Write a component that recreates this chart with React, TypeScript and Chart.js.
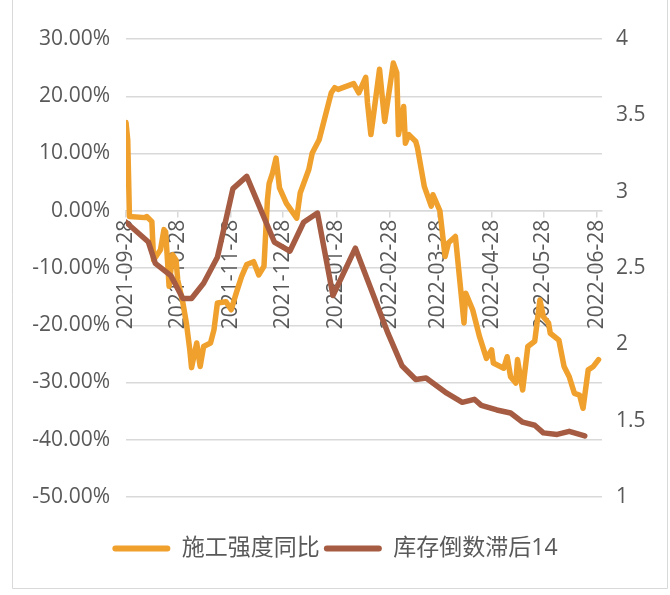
import React, { useEffect, useRef } from "react";
import { Chart, registerables } from "chart.js";

Chart.register(...registerables);

// X-axis tick labels (month anniversaries)
const tickDates = [
  "2021-09-28", "2021-10-28", "2021-11-28", "2021-12-28", "2022-01-28",
  "2022-02-28", "2022-03-28", "2022-04-28", "2022-05-28", "2022-06-28",
];

// 施工强度同比 (left axis, %), x = days since 2021-09-28
const constructionDays = [
  0, 1, 2, 11, 12, 15, 16, 20, 22, 23, 25, 27, 29, 30, 33, 35, 37, 38, 41, 43,
  45, 49, 51, 53, 58, 61, 64, 67, 70, 74, 77, 80, 82, 83, 85, 87, 89, 93, 99, 101,
  106, 108, 112, 119, 121, 123, 132, 135, 139, 140, 142, 147, 150, 155, 157, 158, 161, 162, 164, 168,
  169, 173, 175, 177, 178, 182, 185, 187, 191, 196, 197, 201, 205, 209, 212, 213, 219, 221, 223, 226,
  227, 230, 233, 237, 240, 242, 245, 246, 251, 254, 257, 260, 263, 265, 268, 271, 274,
];
const constructionValues = [
  15.4, 12.4, -1.0, -1.2, -1.0, -1.9, -8.6, -6.8, -3.3, -3.7, -13.2, -7.7, -8.6, -12.1, -16.1, -19.6, -24.3, -27.4, -23.1, -27.2,
  -23.7, -23.1, -20.8, -16.1, -15.9, -17.3, -14.3, -11.5, -9.4, -8.9, -11.2, -9.7, 1.9, 4.8, 6.6, 9.2, 4.0, 1.3, -1.3, 3.1,
  7.2, 10.1, 12.4, 20.6, 21.5, 21.2, 22.2, 20.6, 23.3, 18.9, 13.3, 24.7, 15.6, 25.8, 24.1, 13.3, 18.2, 11.8, 13.3, 12.1,
  11.0, 4.2, 2.5, 0.8, 2.8, 0.0, -8.0, -5.6, -4.5, -19.6, -14.4, -17.3, -22.0, -25.8, -24.3, -26.6, -27.5, -25.5, -29.0, -30.1,
  -26.0, -31.3, -23.7, -22.8, -15.6, -18.5, -19.6, -21.4, -22.6, -27.2, -29.0, -31.9, -32.2, -34.5, -27.8, -27.2, -26.0,
];

// 库存倒数滞后14 (right axis)
const inventoryDays = [
  0, 13, 17, 26, 33, 38, 45, 53, 62, 70, 86, 95, 103, 111, 120, 133,
  152, 160, 168, 174, 186, 195, 202, 206, 215, 223, 230, 237, 242, 250, 257, 266,
];
const inventoryValues = [
  2.80, 2.67, 2.53, 2.45, 2.30, 2.30, 2.40, 2.57, 3.02, 3.10, 2.67, 2.61, 2.80, 2.86, 2.32, 2.63,
  2.07, 1.86, 1.77, 1.78, 1.68, 1.62, 1.64, 1.60, 1.57, 1.55, 1.49, 1.47, 1.42, 1.41, 1.43, 1.40,
];

const seriesNames = ["施工强度同比", "库存倒数滞后14"];

const DAY = 86400000;
const dayOffset = (d: string) => Math.round((Date.parse(d) - Date.parse(tickDates[0])) / DAY);
const tickDays = tickDates.map(dayOffset);

const ORANGE = "#F0A02C";
const BROWN = "#A65C42";
const GRID = "#d9d9d9";
const TEXT = "#595959";
const FONT = "'Open Sans', 'Noto Sans CJK SC', sans-serif";

const framePlugin = {
  id: "frame",
  beforeDraw(chart: any) {
    const ctx = chart.ctx;
    ctx.save();
    ctx.fillStyle = "#ffffff";
    ctx.fillRect(0, 0, chart.width, chart.height);
    ctx.strokeStyle = GRID;
    ctx.lineWidth = 1;
    ctx.beginPath();
    ctx.moveTo(12.5, 0);
    ctx.lineTo(12.5, 588.5);
    ctx.lineTo(667.5, 588.5);
    ctx.lineTo(667.5, 0);
    ctx.stroke();
    ctx.restore();
  },
};

export default function App() {
  const ref = useRef<HTMLCanvasElement | null>(null);

  useEffect(() => {
    if (!ref.current) return;
    const chart = new Chart(ref.current, {
      type: "line",
      data: {
        datasets: [
          {
            label: seriesNames[0],
            data: constructionDays.map((d, i) => ({ x: d, y: constructionValues[i] })),
            borderColor: ORANGE,
            backgroundColor: ORANGE,
            borderWidth: 5.5,
            pointRadius: 0,
            tension: 0,
            borderJoinStyle: "round",
            borderCapStyle: "round",
            yAxisID: "y",
            order: 1,
          },
          {
            label: seriesNames[1],
            data: inventoryDays.map((d, i) => ({ x: d, y: inventoryValues[i] })),
            borderColor: BROWN,
            backgroundColor: BROWN,
            borderWidth: 5.5,
            pointRadius: 0,
            tension: 0,
            borderJoinStyle: "round",
            borderCapStyle: "round",
            yAxisID: "y2",
            order: 0,
          },
        ],
      },
      options: {
        responsive: false,
        animation: false,
        events: [],
        layout: { padding: { left: 0, right: 0, top: 39, bottom: 25 } },
        plugins: {
          tooltip: { enabled: false },
          legend: {
            position: "bottom",
            labels: {
              boxWidth: 58,
              boxHeight: 6,
              useBorderRadius: true,
              borderRadius: 3,
              padding: 4,
              color: TEXT,
              font: { family: FONT, size: 23 },
              sort: (a: any, b: any) => a.datasetIndex - b.datasetIndex,
              generateLabels: (c: any) =>
                Chart.defaults.plugins.legend.labels
                  .generateLabels(c)
                  .map((l: any) => ({ ...l, lineWidth: 0, fillStyle: l.strokeStyle })),
            },
          },
        },
        scales: {
          x: {
            type: "linear",
            position: { y: 0 } as any,
            min: 0,
            max: 276,
            afterBuildTicks: (s: any) => {
              s.ticks = tickDays.map((v) => ({ value: v }));
            },
            grid: {
              display: true,
              drawOnChartArea: false,
              drawTicks: true,
              tickLength: 6,
              color: GRID,
              lineWidth: 1.5,
            },
            border: { display: true, color: GRID, width: 1.5 },
            ticks: {
              autoSkip: false,
              minRotation: 90,
              maxRotation: 90,
              padding: 3,
              color: TEXT,
              font: { family: FONT, size: 21 },
              callback: (_v: any, i: number) => tickDates[i],
            },
          },
          xspace: {
            type: "linear",
            position: "bottom",
            display: true,
            grid: { display: false },
            border: { display: false },
            ticks: { display: false },
            afterFit: (s: any) => {
              s.height = 36;
            },
          },
          y: {
            type: "linear",
            position: "left",
            min: -50,
            max: 30,
            afterBuildTicks: (s: any) => {
              const t = [];
              for (let v = -50; v <= 30; v += 10) t.push({ value: v });
              s.ticks = t;
            },
            grid: { color: GRID, lineWidth: 1.5, drawTicks: false },
            border: { display: false },
            ticks: {
              padding: 16,
              color: TEXT,
              font: { family: FONT, size: 21 },
              callback: (v: any) => Number(v).toFixed(2) + "%",
            },
            afterFit: (s: any) => {
              s.width = 126;
            },
          },
          y2: {
            type: "linear",
            position: "right",
            min: 1,
            max: 4,
            afterBuildTicks: (s: any) => {
              const t = [];
              for (let v = 1; v <= 4; v += 0.5) t.push({ value: v });
              s.ticks = t;
            },
            grid: { display: false, drawTicks: false },
            border: { display: false },
            ticks: {
              padding: 14,
              color: TEXT,
              font: { family: FONT, size: 21 },
              callback: (v: any) => String(v),
            },
            afterFit: (s: any) => {
              s.width = 68;
            },
          },
        },
      },
      plugins: [framePlugin],
    });
    return () => chart.destroy();
  }, []);

  return (
    <div style={{ position: "absolute", left: 0, top: 0, width: 670, height: 595 }}>
      <canvas ref={ref} width={670} height={595} style={{ display: "block" }} />
    </div>
  );
}
